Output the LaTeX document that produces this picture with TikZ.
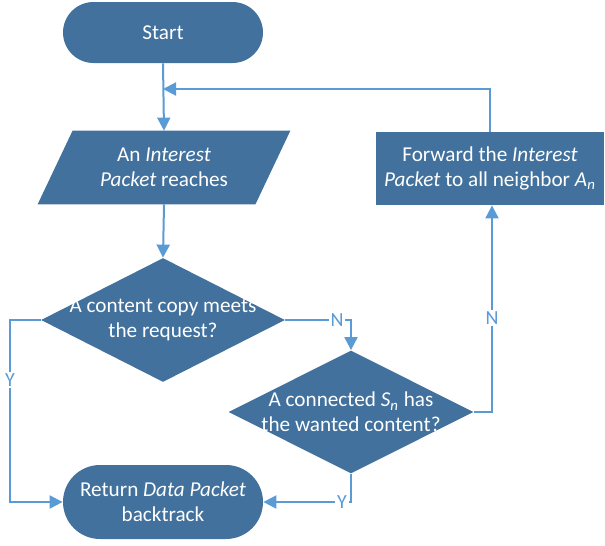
\documentclass[tikz,border=0pt]{standalone}
\usepackage{fontspec}
\setmainfont{Carlito}
\usetikzlibrary{shapes.geometric,shapes.misc,arrows.meta,backgrounds}
\definecolor{boxfill}{HTML}{41719C}
\definecolor{linec}{HTML}{5B9BD5}
\tikzset{
  base/.style={fill=boxfill, draw=none, text=white, align=center, inner sep=0pt, font=\fontsize{10.6}{12.5}\selectfont},
  term/.style={base, rounded rectangle, minimum width=100pt},
  procbox/.style={base, rectangle},
  decis/.style={base, diamond},
  txt/.style={text=white, align=center, inner sep=0pt, font=\fontsize{10.6}{12.5}\selectfont},
  conn/.style={draw=linec, line width=1pt},
  arr/.style={conn, -{Triangle[length=6.5pt,width=6.5pt]}},
  lbl/.style={fill=white, text=linec, inner sep=1pt, font=\fontsize{10}{12}\selectfont}
}
\begin{document}
\begin{tikzpicture}[x=0.5pt,y=-0.5pt]
\useasboundingbox (0,0) rectangle (605,546);
% nodes
\node[term, minimum height=30.5pt] (start) at (163,32.5) {Start};
\node[txt, minimum width=108.5pt, minimum height=36.5pt] (inp) at (164,167.5) {An \textit{Interest}\\\textit{Packet} reaches};
\begin{pgfonlayer}{background}
\fill[boxfill] ([xshift=-8.75pt]inp.south west) -- ([xshift=-8.75pt]inp.south east) -- ([xshift=8.75pt]inp.north east) -- ([xshift=8.75pt]inp.north west) -- cycle;
\end{pgfonlayer}
\node[decis, minimum width=122pt, minimum height=62pt] (d1) at (163,320) {};
\node[txt] (d1t) at (d1.center) {A content copy meets\\the request?};
\node[decis, minimum width=122.5pt, minimum height=61.5pt] (d2) at (351,412) {};
\node[txt] (d2t) at (d2.center) {A connected \textit{S}\textsubscript{\textit{n}} has\\the wanted content?};
\node[procbox, minimum width=114pt, minimum height=36.5pt] (fwd) at (490,168.5) {Forward the \textit{Interest}\\\textit{Packet} to all neighbor \textit{A}\textsubscript{\textit{n}}};
\node[term, minimum height=37pt] (ret) at (163,502) {Return \textit{Data Packet}\\backtrack};
% helper coordinates
\coordinate (m) at (163,89);
\coordinate (yl1) at (10,320);
\coordinate (nr) at (492,412);
% connectors
\draw[arr] (start.south) -- (inp.north);
\draw[arr] (fwd.north) |- (m);
\draw[arr] (inp.south) -- (d1.north);
\draw[arr] (d1.west) -- (yl1) |- (ret.west);
\draw[arr] (d1.east) -| (d2.north);
\draw[arr] (d2.east) -- (nr) -- (nr |- fwd.south);
\draw[arr] (d2.south) |- (ret.east);
% labels
\node[lbl] (ly1) at (10,380) {Y};
\node[lbl] (ln1) at (337,320) {N};
\node[lbl] (ln2) at (492,318) {N};
\node[lbl] (ly2) at (342,502) {Y};
\end{tikzpicture}
\end{document}
